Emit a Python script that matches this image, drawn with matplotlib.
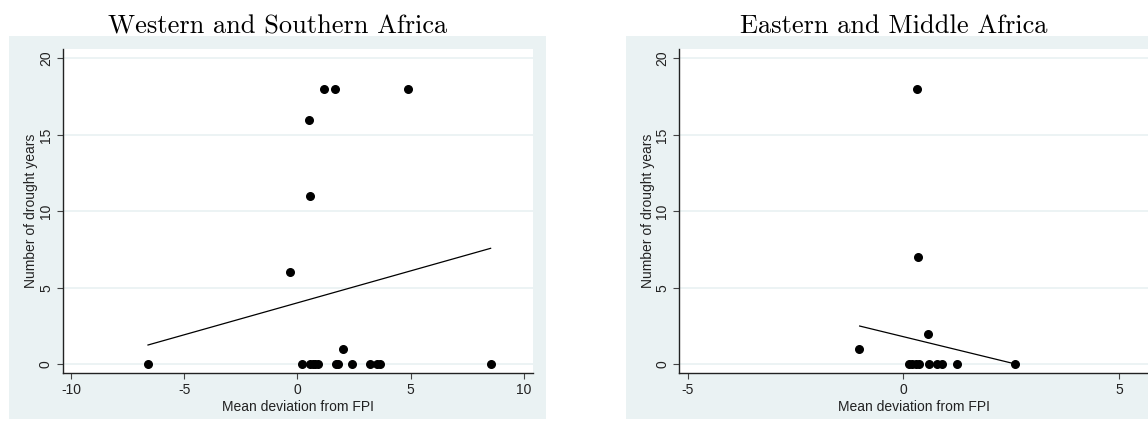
import matplotlib
matplotlib.use('Agg')
import matplotlib.pyplot as plt
from matplotlib.patches import Rectangle

plt.rcParams['axes.unicode_minus'] = False

# Western and Southern Africa
west_x = [-6.60, 0.19, 0.55, 0.68, 0.80, 0.92, 1.70, 1.80, 2.40, 3.23, 3.52, 3.64, 8.54,
          2.03, -0.33, 0.54, 0.53, 1.19, 1.68, 4.91]
west_y = [0, 0, 0, 0, 0, 0, 0, 0, 0, 0, 0, 0, 0,
          1, 6, 11, 16, 18, 18, 18]
west_fit_x = [-6.60, 8.54]
west_fit_y = [1.26, 7.58]

# Eastern and Middle Africa
east_x = [0.13, 0.21, 0.29, 0.37, 0.59, 0.78, 0.90, 1.24, 2.60, -1.03, 0.58, 0.34, 0.33]
east_y = [0, 0, 0, 0, 0, 0, 0, 0, 0, 1, 2, 7, 18]
east_fit_x = [-1.01, 2.60]
east_fit_y = [2.50, 0.02]

titles = ['Western and Southern Africa', 'Eastern and Middle Africa']
y_ticks = [0, 5, 10, 15, 20]

BG = '#EAF2F3'
W, H = 1148, 421

fig = plt.figure(figsize=(W / 100, H / 100), dpi=100)
fig.patch.set_facecolor('white')

# graph regions (light background)
for x0, x1 in [(9, 546), (626, 1162)]:
    fig.patches.append(Rectangle((x0 / W, 2 / H), (x1 - x0) / W, (H - 35.7 - 2) / H,
                                 transform=fig.transFigure, facecolor=BG,
                                 edgecolor='none', zorder=-10))

ax1 = fig.add_axes([62.7 / W, (H - 373.3) / H, 470 / W, 324 / H])
ax2 = fig.add_axes([679 / W, (H - 373.3) / H, 470 / W, 324 / H])


def style(ax, xlim, xticks):
    ax.set_facecolor('white')
    ax.set_xlim(*xlim)
    ax.set_ylim(-0.59, 20.59)
    ax.set_xticks(xticks)
    ax.set_yticks(y_ticks)
    ax.grid(axis='y', color=BG, linewidth=1.3, zorder=0)
    ax.set_axisbelow(True)
    for s in ['top', 'right']:
        ax.spines[s].set_visible(False)
    for s in ['left', 'bottom']:
        ax.spines[s].set_color('#222222')
        ax.spines[s].set_linewidth(1.0)
    ax.tick_params(axis='both', length=4, width=0.8, color='#444444',
                   labelsize=10, labelcolor='#222222', pad=3)
    ax.tick_params(axis='y', labelrotation=90)
    for lab in ax.get_yticklabels():
        lab.set_va('center')
        lab.set_family('Liberation Sans')
    for lab in ax.get_xticklabels():
        lab.set_family('Liberation Sans')
    ax.set_xlabel('Mean deviation from FPI', family='Liberation Sans',
                  fontsize=10, color='#222222', labelpad=2)
    ax.set_ylabel('Number of drought years', family='Liberation Sans',
                  fontsize=10, color='#222222', labelpad=0.5)


style(ax1, (-10.37, 10.40), [-10, -5, 0, 5, 10])
style(ax2, (-5.2, 5.70), [-5, 0, 5])

ax1.scatter(west_x, west_y, s=30, color='black', zorder=3, clip_on=False)
ax1.plot(west_fit_x, west_fit_y, color='black', linewidth=0.9, zorder=2)

ax2.scatter(east_x, east_y, s=30, color='black', zorder=3, clip_on=False)
ax2.plot(east_fit_x, east_fit_y, color='black', linewidth=0.9, zorder=2)

fig.text(277.5 / W, (H - 33) / H, titles[0], family='cmr10', fontsize=19,
         ha='center', va='baseline')
fig.text(894 / W, (H - 33) / H, titles[1], family='cmr10', fontsize=19,
         ha='center', va='baseline')

fig.savefig('out.png', dpi=100)
